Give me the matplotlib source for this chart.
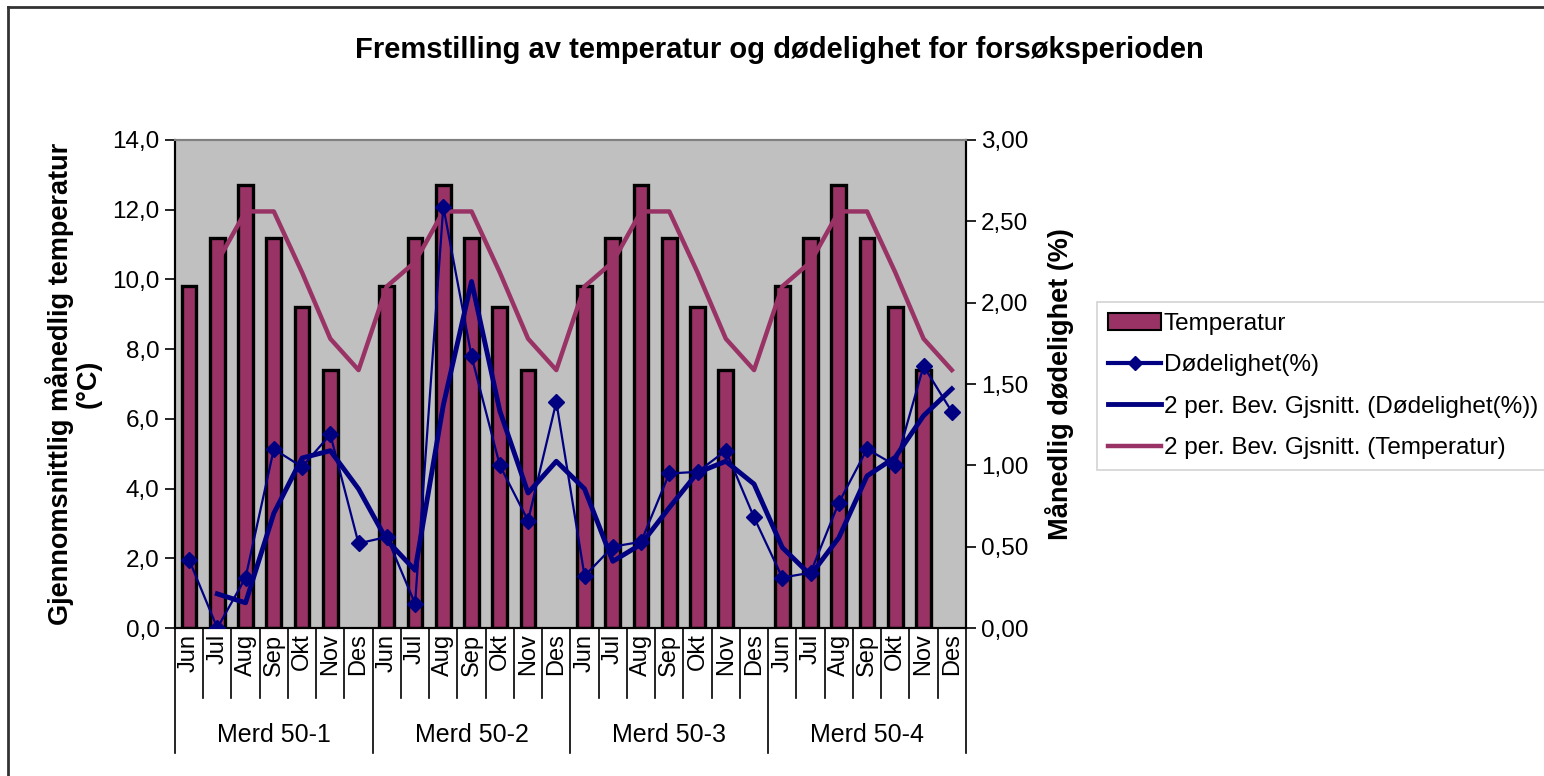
import numpy as np
import matplotlib
matplotlib.use("Agg")
import matplotlib.pyplot as plt
from matplotlib.lines import Line2D
from matplotlib.patches import Patch
import matplotlib.transforms as mtransforms

plt.rcParams['font.family'] = ['Liberation Sans', 'DejaVu Sans']

months = ['Jun', 'Jul', 'Aug', 'Sep', 'Okt', 'Nov', 'Des']
groups = ['Merd 50-1', 'Merd 50-2', 'Merd 50-3', 'Merd 50-4']

# temperatur (°C) per merd, Des er tom
temp_1 = [9.8, 11.2, 12.7, 11.2, 9.2, 7.4, np.nan]
temp_2 = [9.8, 11.2, 12.7, 11.2, 9.2, 7.4, np.nan]
temp_3 = [9.8, 11.2, 12.7, 11.2, 9.2, 7.4, np.nan]
temp_4 = [9.8, 11.2, 12.7, 11.2, 9.2, 7.4, np.nan]

# dødelighet (%)
dod_1 = [0.42, 0.00, 0.31, 1.10, 0.99, 1.19, 0.52]
dod_2 = [0.56, 0.15, 2.59, 1.67, 1.00, 0.66, 1.39]
dod_3 = [0.32, 0.50, 0.53, 0.95, 0.96, 1.09, 0.68]
dod_4 = [0.31, 0.34, 0.77, 1.10, 1.00, 1.61, 1.33]

# glidende gjennomsnitt (2 per.) som lest av figuren
ma_temp = [np.nan, 10.5, 11.95, 11.95, 10.2, 8.3, 7.4,
           9.8, 10.5, 11.95, 11.95, 10.2, 8.3, 7.4,
           9.8, 10.5, 11.95, 11.95, 10.2, 8.3, 7.4,
           9.8, 10.5, 11.95, 11.95, 10.2, 8.3, 7.4]
ma_dod = [np.nan, 0.21, 0.155, 0.705, 1.045, 1.09, 0.855,
          0.54, 0.355, 1.37, 2.13, 1.335, 0.83, 1.025,
          0.855, 0.41, 0.515, 0.74, 0.955, 1.025, 0.885,
          0.495, 0.325, 0.555, 0.935, 1.05, 1.305, 1.47]

temp = temp_1 + temp_2 + temp_3 + temp_4
dod = dod_1 + dod_2 + dod_3 + dod_4
labels = months * len(groups)
x = np.arange(len(labels))

plum = '#993366'
navy = '#000080'

fig = plt.figure(figsize=(15.44, 7.76), dpi=100)
ax = fig.add_axes([0.1133, 0.1907, 0.5123, 0.6289])
ax.set_facecolor('#c0c0c0')

ax.bar(x, temp, width=0.52, color=plum, edgecolor='black', linewidth=2.4, zorder=2)
ax.plot(x, ma_temp, color=plum, linewidth=3.2, zorder=3)
ax.set_ylim(0, 14)
ax.set_xlim(-0.5, len(x) - 0.5)
ax.set_yticks(np.arange(0, 15, 2))
ax.set_yticklabels([f'{v:.1f}'.replace('.', ',') for v in np.arange(0, 15, 2)], fontsize=17.5)
ax.tick_params(axis='y', direction='out', length=7, width=1.2, pad=4)

ax.set_xticks(x)
ax.set_xticklabels(labels, rotation=90, fontsize=17, va='top')
ax.tick_params(axis='x', length=0, pad=4)

ax2 = ax.twinx()
ax2.plot(x, dod, color=navy, linewidth=1.6, marker='D', markersize=8, zorder=4)
ax2.plot(x, ma_dod, color=navy, linewidth=3.5, zorder=4)
ax2.set_ylim(0, 3)
ax2.set_yticks(np.arange(0, 3.01, 0.5))
ax2.set_yticklabels([f'{v:.2f}'.replace('.', ',') for v in np.arange(0, 3.01, 0.5)], fontsize=17.5)
ax2.tick_params(axis='y', direction='out', length=7, width=1.2, pad=4)

for a in (ax, ax2):
    a.spines['top'].set_color('#808080')
    a.spines['top'].set_linewidth(1.5)
    a.spines['left'].set_linewidth(1.5)
    a.spines['right'].set_linewidth(1.5)
    a.spines['bottom'].set_linewidth(1.5)

# kategoriskiller og gruppeetiketter
trans = mtransforms.blended_transform_factory(ax.transData, ax.transAxes)
for b in np.arange(-0.5, len(x), 1.0):
    long_line = (b + 0.5) % 7 == 0
    y_end = -0.256 if long_line else -0.144
    ax.plot([b, b], [0, y_end], color='black', linewidth=1.2,
            transform=trans, clip_on=False)
for i, g in enumerate(groups):
    ax.text(i * 7 + 3, -0.219, g, transform=trans, ha='center', va='center', fontsize=18)

ax.set_ylabel('Gjennomsnittlig månedlig temperatur\n(°C)', fontsize=19.5,
              fontweight='bold', labelpad=8, linespacing=1.05)
ax2.set_ylabel('Månedlig dødelighet (%)', fontsize=19.5, fontweight='bold', labelpad=12)

fig.text(0.505, 0.935, 'Fremstilling av temperatur og dødelighet for forsøksperioden',
         ha='center', va='center', fontsize=21, fontweight='bold')

handles = [Patch(facecolor=plum, edgecolor='black', linewidth=1.5),
           Line2D([], [], color=navy, linewidth=3, marker='D', markersize=7),
           Line2D([], [], color=navy, linewidth=3.5),
           Line2D([], [], color=plum, linewidth=3.2)]
names = ['Temperatur', 'Dødelighet(%)', '2 per. Bev. Gjsnitt. (Dødelighet(%))',
         '2 per. Bev. Gjsnitt. (Temperatur)']
leg = fig.legend(handles, names, loc='upper left', bbox_to_anchor=(0.7105, 0.611),
                 fontsize=17.5, frameon=True, fancybox=False, edgecolor='#c8c8c8',
                 handlelength=2.2, handletextpad=0.1, borderpad=0.45, labelspacing=0.8,
                 borderaxespad=0)
leg.get_frame().set_linewidth(1.2)

# ramme rundt diagrammet (venstre og topp)
fig.add_artist(Line2D([0.0055, 0.0055], [0.0, 0.991], color='#333333', linewidth=2,
                      transform=fig.transFigure))
fig.add_artist(Line2D([0.0055, 1.0], [0.991, 0.991], color='#333333', linewidth=2,
                      transform=fig.transFigure))

fig.savefig('out.png', dpi=100)
